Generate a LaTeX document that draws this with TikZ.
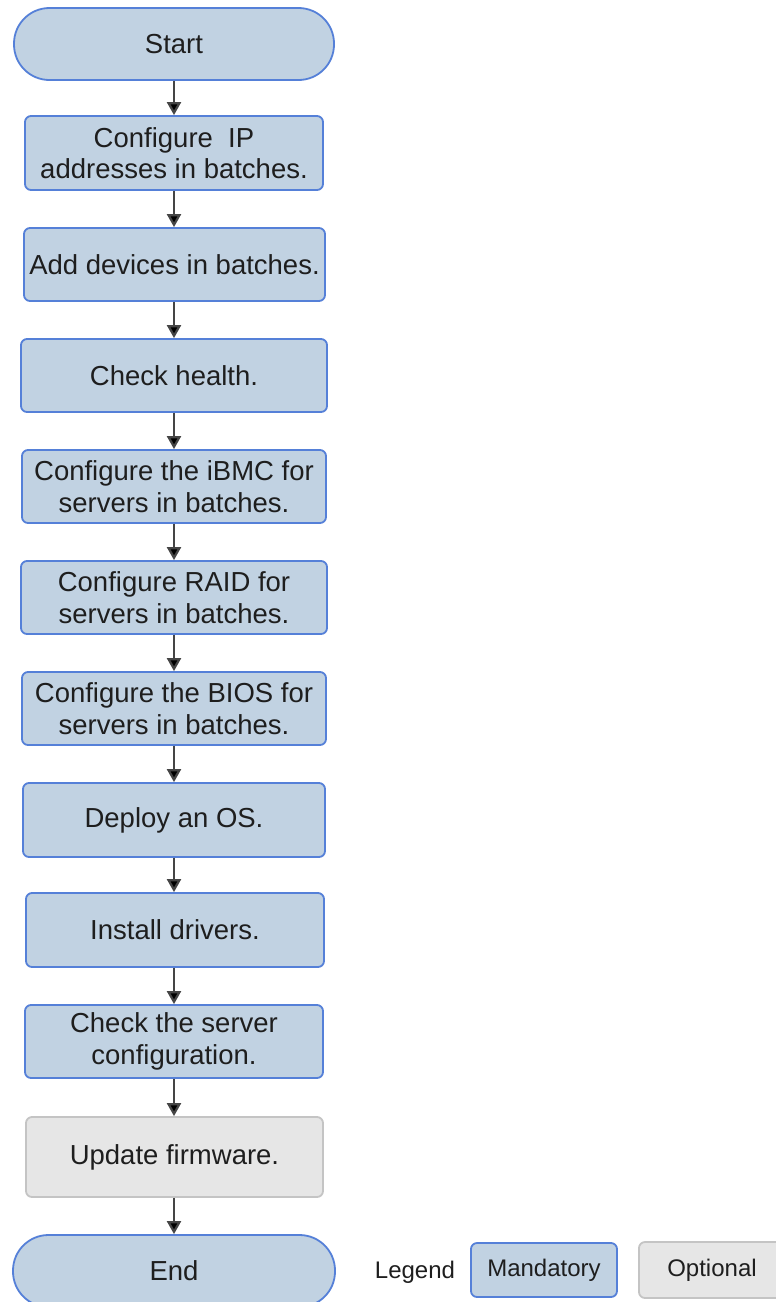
\documentclass[tikz,border=0pt]{standalone}
\usepackage{fontspec}
\setmainfont{Liberation Sans}
\usetikzlibrary{arrows.meta}
\definecolor{stepfill}{HTML}{C1D2E2}
\definecolor{stepline}{HTML}{5580D8}
\definecolor{optfill}{HTML}{E6E6E6}
\definecolor{optline}{HTML}{C4C4C4}
\definecolor{txt}{HTML}{1E1E1E}
\definecolor{flow}{HTML}{454545}
\tikzset{
  base/.style={draw, line width=1.8pt, text=txt, align=center,
    font=\fontsize{27.5}{31.5}\selectfont, inner sep=0pt},
  terminal/.style={base, fill=stepfill, draw=stepline, rounded corners=35.5pt},
  stepbox/.style={base, fill=stepfill, draw=stepline, rounded corners=6pt},
  optbox/.style={base, fill=optfill, draw=optline, rounded corners=6pt},
  legendbox/.style={font=\fontsize{24}{28}\selectfont},
  flowarrow/.style={draw=flow, line width=2.2pt,
    -{Triangle[length=13pt,width=14pt,fill=black]}},
}
\begin{document}
\begin{tikzpicture}[x=1pt,y=-1pt]
\useasboundingbox (0,0) rectangle (776,1302);
\clip (0,0) rectangle (776,1302);
\fill[white] (0,0) rectangle (776,1302);

\node[terminal, minimum width=320pt, minimum height=72pt] (start) at (174,44) {Start};
\node[stepbox, minimum width=298pt, minimum height=74pt] (ip) at (174,153)
  {Configure~~IP\\addresses in batches.};
\node[stepbox, minimum width=301pt, minimum height=73pt] (add) at (174.5,264.5)
  {Add devices in batches.};
\node[stepbox, minimum width=306pt, minimum height=73pt] (health) at (174,375.5)
  {Check health.};
\node[stepbox, minimum width=304pt, minimum height=73pt] (ibmc) at (174,486.5)
  {Configure the iBMC for\\servers in batches.};
\node[stepbox, minimum width=306pt, minimum height=73pt] (raid) at (174,597.5)
  {Configure RAID for\\servers in batches.};
\node[stepbox, minimum width=304pt, minimum height=73pt] (bios) at (174,708.5)
  {Configure the BIOS for\\servers in batches.};
\node[stepbox, minimum width=302pt, minimum height=74pt] (os) at (174,820)
  {Deploy an OS.};
\node[stepbox, minimum width=298pt, minimum height=74pt] (drv) at (175,930)
  {Install drivers.};
\node[stepbox, minimum width=298pt, minimum height=73pt] (chk) at (174,1041.5)
  {Check the server\\configuration.};
\node[optbox, minimum width=297pt, minimum height=80pt] (fw) at (174.5,1157)
  {Update firmware.};
\node[terminal, minimum width=322pt, minimum height=72pt] (end) at (174,1271) {End};

% legend
\node[legendbox, text=txt] (legend) at (415,1272) {Legend};
\node[stepbox, legendbox, minimum width=146pt, minimum height=54pt] (mand) at (544,1270)
  {Mandatory};
\node[optbox, legendbox, minimum width=146pt, minimum height=56pt] (opt) at (712,1270)
  {Optional};

% flow
\foreach \a/\b in {start/ip, ip/add, add/health, health/ibmc, ibmc/raid, raid/bios,
                   bios/os, os/drv, drv/chk, chk/fw, fw/end}
  \draw[flowarrow] (\a.south -| 174,0) -- (\b.north -| 174,0);
\end{tikzpicture}
\end{document}
